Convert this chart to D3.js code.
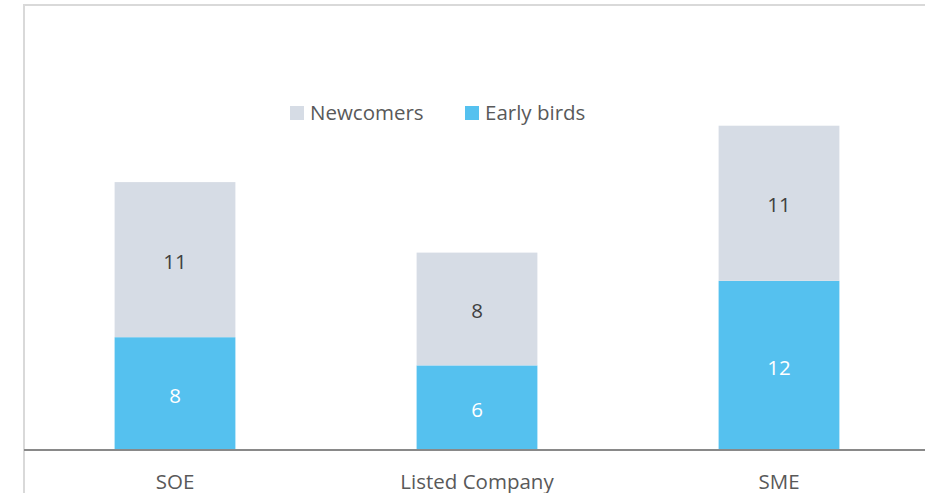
<!DOCTYPE html>
<html>
<head>
<meta charset="utf-8">
<script src="https://cdn.jsdelivr.net/npm/d3@7"></script>
<style>
  html, body { margin: 0; padding: 0; background: #fff; }
  svg { display: block; font-family: "Open Sans", "Liberation Sans", sans-serif; }
</style>
</head>
<body>
<svg id="chart" width="925" height="493"></svg>
<script>
// Company types and counts per group
const categories = ["SOE", "Listed Company", "SME"];
const earlyBirds = [8, 6, 12];
const newcomers = [11, 8, 11];
const seriesNames = ["Newcomers", "Early birds"];
const seriesColors = ["#d6dce5", "#55c1ef"];

const svg = d3.select("#chart");
const FONT = 20.5;

// Outer frame
svg.append("rect")
  .attr("x", 24).attr("y", 5)
  .attr("width", 920).attr("height", 520)
  .attr("fill", "none").attr("stroke", "#d9d9d9").attr("stroke-width", 2);

const x = d3.scaleBand().domain(categories).range([24, 930]).paddingInner(0.6).paddingOuter(0.3);
const y = d3.scaleLinear().domain([0, 30]).range([450, 27]);

const rows = categories.map((c, i) => ({ cat: c, early: earlyBirds[i], newc: newcomers[i] }));
const stack = d3.stack().keys(["early", "newc"])(rows);
const colorOf = { early: seriesColors[1], newc: seriesColors[0] };
const labelColor = { early: "#ffffff", newc: "#404040" };

const layers = svg.selectAll("g.layer").data(stack).join("g").attr("class", "layer")
  .attr("fill", d => colorOf[d.key]);

layers.selectAll("rect").data(d => d).join("rect")
  .attr("x", d => x(d.data.cat))
  .attr("width", x.bandwidth())
  .attr("y", d => y(d[1]))
  .attr("height", d => y(d[0]) - y(d[1]));

stack.forEach(layer => {
  svg.append("g").selectAll("text").data(layer).join("text")
    .attr("x", d => x(d.data.cat) + x.bandwidth() / 2)
    .attr("y", d => (y(d[0]) + y(d[1])) / 2 + 2)
    .attr("dy", "0.35em")
    .attr("text-anchor", "middle")
    .attr("font-size", FONT)
    .attr("fill", labelColor[layer.key])
    .text(d => d[1] - d[0]);
});

// Category axis
const xAxis = svg.append("g").attr("transform", "translate(0,450)")
  .call(d3.axisBottom(x).tickSize(0).tickPadding(24));
xAxis.select(".domain").remove();
xAxis.selectAll("text").attr("font-size", FONT).attr("fill", "#595959")
  .attr("font-family", "\"Open Sans\", \"Liberation Sans\", sans-serif");
svg.append("line").attr("x1", 24).attr("x2", 925).attr("y1", 450).attr("y2", 450)
  .attr("stroke", "#898989").attr("stroke-width", 2);

// Legend
const legend = [
  { name: seriesNames[0], color: seriesColors[0], x: 290 },
  { name: seriesNames[1], color: seriesColors[1], x: 465 }
];
const lg = svg.append("g").selectAll("g").data(legend).join("g")
  .attr("transform", d => `translate(${d.x},106)`);
lg.append("rect").attr("width", 14).attr("height", 14).attr("fill", d => d.color);
lg.append("text").attr("x", 20).attr("y", 7).attr("dy", "0.35em")
  .attr("font-size", FONT).attr("fill", "#595959").text(d => d.name);
</script>
</body>
</html>
